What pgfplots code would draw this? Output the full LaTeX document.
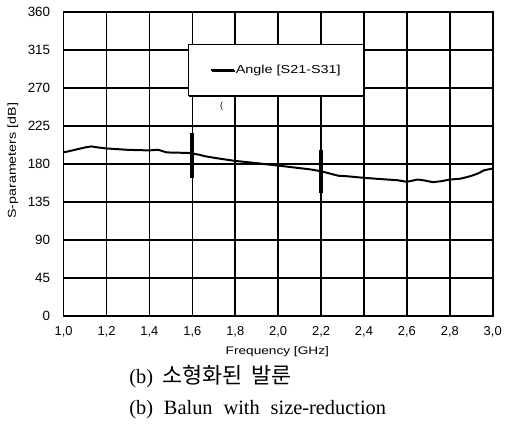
\documentclass[border=0pt]{standalone}
\usepackage{fontspec}
\setmainfont{Liberation Sans}
\newfontfamily\lblfont[FakeStretch=1.25]{Liberation Sans}
\newfontfamily\capfont{Liberation Serif}
\newfontfamily\krfont{Noto Sans CJK KR}
\usepackage{pgfplots}
\pgfplotsset{compat=1.18}
\usetikzlibrary{shadows}
\begin{document}
\begin{tikzpicture}
\begin{axis}[
  name=ax,
  at={(0,0)}, anchor=south west,
  scale only axis,
  width=432pt, height=306pt,
  xmin=1.0, xmax=3.0, ymin=0, ymax=360,
  xtick={1.0,1.2,1.4,1.6,1.8,2.0,2.2,2.4,2.6,2.8,3.0},
  ytick={0,45,90,135,180,225,270,315,360},
  grid=major,
  major grid style={black, line width=1.5pt},
  axis line style={black, line width=1.6pt},
  major tick length=0pt,
  /pgf/number format/assume math mode=true,
  xticklabel style={font=\fontsize{13}{15}\selectfont, yshift=-7pt, /pgf/number format/.cd, fixed, fixed zerofill, precision=1, use comma},
  yticklabel style={font=\fontsize{13.5}{15}\selectfont, xshift=-10pt},
  xlabel={Frequency [GHz]},
  ylabel={S-parameters [dB]},
  xlabel style={font=\lblfont\fontsize{11}{13}\selectfont, at={(axis description cs:0.498,-0.118)}, anchor=center},
  ylabel style={font=\lblfont\fontsize{11.5}{13}\selectfont, at={(axis description cs:-0.118,0.51)}, anchor=center},
  legend style={at={(0.289,0.895)}, anchor=north west, draw=black, line width=1.1pt, fill=white,
    font=\lblfont\fontsize{11.6}{13}\selectfont, inner xsep=22pt, inner ysep=20pt,
    nodes={inner sep=1pt},
    drop shadow={shadow xshift=1.3pt, shadow yshift=-1.3pt, opacity=1, fill=black}},
  legend image code/.code={\draw[#1, line width=2pt] (0pt,0pt) -- (23pt,0pt);},
]
\addplot[black, line width=2pt] coordinates {
(1.00,193.6) (1.05,196.5) (1.10,199.5) (1.13,200.7) (1.16,199.5) (1.20,198.3)
(1.25,197.5) (1.29,196.8) (1.35,196.3) (1.40,196.0) (1.44,196.8) (1.48,193.6)
(1.53,193.3) (1.58,193.0) (1.63,191.0) (1.66,189.0) (1.72,186.5) (1.80,183.5)
(1.86,182.0) (1.93,180.0) (2.00,178.0) (2.09,175.3) (2.15,173.5) (2.20,171.3)
(2.25,168.0) (2.28,166.0) (2.32,165.4) (2.40,163.5) (2.48,162.0) (2.555,160.7)
(2.60,158.8) (2.65,161.5) (2.68,160.5) (2.72,158.4) (2.76,159.5) (2.80,161.5)
(2.85,162.5) (2.895,165.4) (2.93,168.5) (2.96,172.5) (3.00,174.5)
};
\addlegendentry{Angle [S21-S31]\hspace{-14pt}}
\addplot[black, line width=4pt, forget plot] coordinates {(1.6,163.6) (1.6,216.4)};
\addplot[black, line width=4pt, forget plot] coordinates {(2.2,145.9) (2.2,196.8)};
\end{axis}
\path ([xshift=-64pt,yshift=-113pt]ax.south west) rectangle ([xshift=441pt,yshift=318pt]ax.south west);
\node[font=\fontsize{9}{10}\selectfont, inner sep=0pt] at ([xshift=159pt, yshift=211pt]ax.south west) {(};
\node[anchor=base west, inner sep=0pt, font=\fontsize{20.5}{24}\selectfont] at ([xshift=66pt, yshift=-68pt]ax.south west)
  {\capfont (b)\hspace{9pt}\krfont\fontsize{22}{24}\selectfont 소형화된\hspace{9pt}발룬};
\node[anchor=base west, inner sep=0pt, font=\fontsize{20.5}{24}\selectfont] at ([xshift=66pt, yshift=-99pt]ax.south west)
  {\capfont (b)\hspace{11pt}Balun\hspace{11pt}with\hspace{11pt}size-reduction};
\end{tikzpicture}
\end{document}
